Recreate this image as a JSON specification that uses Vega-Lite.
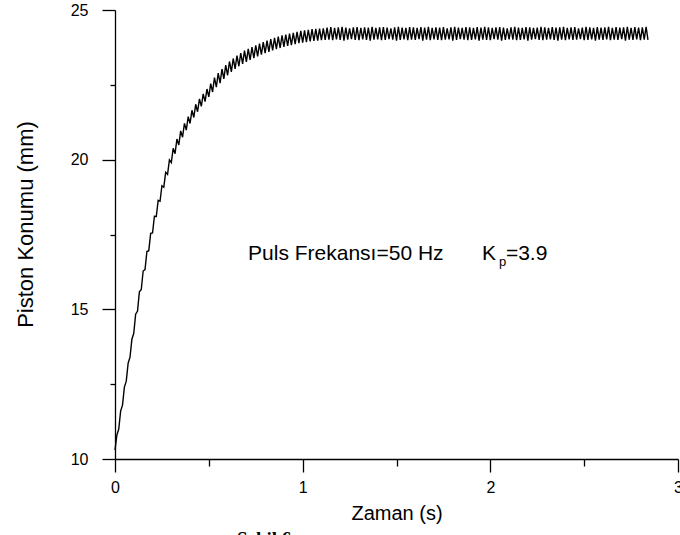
{
  "$schema": "https://vega.github.io/schema/vega-lite/v6.json",
  "width": 563,
  "height": 449,
  "autosize": {"type": "none"},
  "padding": {"left": 115, "top": 10, "right": 2, "bottom": 76},
  "background": "white",
  "config": {
    "view": {"stroke": null},
    "axis": {
      "grid": false,
      "domainColor": "black",
      "domainWidth": 1.3,
      "tickColor": "black",
      "tickWidth": 1.3,
      "labelColor": "black",
      "titleColor": "black",
      "labelFont": "Liberation Sans",
      "titleFont": "Liberation Sans",
      "labelFontSize": 16,
      "titleFontWeight": "normal"
    }
  },
  "layer": [
    {
      "data": {
        "values": [
          {"t":0,"y":10.3},{"t":0.01,"y":10.8},{"t":0.02,"y":11.0},{"t":0.03,"y":11.6},{"t":0.04,"y":11.8},{"t":0.05,"y":12.4},{"t":0.06,"y":12.6},{"t":0.07,"y":13.2},{"t":0.08,"y":13.4},{"t":0.09,"y":14.0},
          {"t":0.1,"y":14.2},{"t":0.11,"y":14.84},{"t":0.12,"y":14.94},{"t":0.13,"y":15.59},{"t":0.14,"y":15.66},{"t":0.15,"y":16.28},{"t":0.16,"y":16.33},{"t":0.17,"y":16.93},{"t":0.18,"y":16.96},{"t":0.19,"y":17.54},
          {"t":0.2,"y":17.55},{"t":0.21,"y":18.11},{"t":0.22,"y":18.1},{"t":0.23,"y":18.64},{"t":0.24,"y":18.61},{"t":0.25,"y":19.13},{"t":0.26,"y":19.08},{"t":0.27,"y":19.58},{"t":0.28,"y":19.51},{"t":0.29,"y":19.99},
          {"t":0.3,"y":19.9},{"t":0.31,"y":20.38},{"t":0.32,"y":20.2},{"t":0.33,"y":20.69},{"t":0.34,"y":20.49},{"t":0.35,"y":20.96},{"t":0.36,"y":20.75},{"t":0.37,"y":21.21},{"t":0.38,"y":20.99},{"t":0.39,"y":21.44},
          {"t":0.4,"y":21.21},{"t":0.41,"y":21.65},{"t":0.42,"y":21.41},{"t":0.43,"y":21.85},{"t":0.44,"y":21.6},{"t":0.45,"y":22.03},{"t":0.46,"y":21.78},{"t":0.47,"y":22.2},{"t":0.48,"y":21.94},{"t":0.49,"y":22.36},
          {"t":0.5,"y":22.1},{"t":0.51,"y":22.54},{"t":0.52,"y":22.26},{"t":0.53,"y":22.74},{"t":0.54,"y":22.42},{"t":0.55,"y":22.89},{"t":0.56,"y":22.56},{"t":0.57,"y":23.03},{"t":0.58,"y":22.7},{"t":0.59,"y":23.16},
          {"t":0.6,"y":22.82},{"t":0.61,"y":23.28},{"t":0.62,"y":22.93},{"t":0.63,"y":23.38},{"t":0.64,"y":23.03},{"t":0.65,"y":23.48},{"t":0.66,"y":23.12},{"t":0.67,"y":23.56},{"t":0.68,"y":23.2},{"t":0.69,"y":23.64},
          {"t":0.7,"y":23.27},{"t":0.71,"y":23.7},{"t":0.72,"y":23.33},{"t":0.73,"y":23.76},{"t":0.74,"y":23.39},{"t":0.75,"y":23.82},{"t":0.76,"y":23.45},{"t":0.77,"y":23.88},{"t":0.78,"y":23.51},{"t":0.79,"y":23.93},
          {"t":0.8,"y":23.56},{"t":0.81,"y":23.98},{"t":0.82,"y":23.6},{"t":0.83,"y":24.03},{"t":0.84,"y":23.65},{"t":0.85,"y":24.07},{"t":0.86,"y":23.69},{"t":0.87,"y":24.11},{"t":0.88,"y":23.73},{"t":0.89,"y":24.15},
          {"t":0.9,"y":23.77},{"t":0.91,"y":24.18},{"t":0.92,"y":23.8},{"t":0.93,"y":24.21},{"t":0.94,"y":23.83},{"t":0.95,"y":24.24},{"t":0.96,"y":23.86},{"t":0.97,"y":24.27},{"t":0.98,"y":23.89},{"t":0.99,"y":24.3},
          {"t":1.0,"y":23.91},{"t":1.01,"y":24.32},{"t":1.02,"y":23.93},{"t":1.03,"y":24.34},{"t":1.04,"y":23.95},{"t":1.05,"y":24.36},{"t":1.06,"y":23.97},{"t":1.07,"y":24.37},{"t":1.08,"y":23.98},{"t":1.09,"y":24.38},
          {"t":1.1,"y":23.99},{"t":1.11,"y":24.39},{"t":1.12,"y":24.0},{"t":1.13,"y":24.41},{"t":1.14,"y":24.01},{"t":1.15,"y":24.43},{"t":1.16,"y":23.99},{"t":1.17,"y":24.4},{"t":1.18,"y":24.02},{"t":1.19,"y":24.42},
          {"t":1.2,"y":24.0},{"t":1.21,"y":24.44},{"t":1.22,"y":23.98},{"t":1.23,"y":24.41},{"t":1.24,"y":24.01},{"t":1.25,"y":24.39},{"t":1.26,"y":24.03},{"t":1.27,"y":24.42},{"t":1.28,"y":24.0},{"t":1.29,"y":24.43},
          {"t":1.3,"y":23.99},{"t":1.31,"y":24.4},{"t":1.32,"y":24.02},{"t":1.33,"y":24.42},{"t":1.34,"y":24.0},{"t":1.35,"y":24.41},{"t":1.36,"y":23.98},{"t":1.37,"y":24.44},{"t":1.38,"y":24.01},{"t":1.39,"y":24.4},
          {"t":1.4,"y":24.02},{"t":1.41,"y":24.42},{"t":1.42,"y":23.99},{"t":1.43,"y":24.43},{"t":1.44,"y":24.0},{"t":1.45,"y":24.41},{"t":1.46,"y":24.03},{"t":1.47,"y":24.39},{"t":1.48,"y":24.01},{"t":1.49,"y":24.42},
          {"t":1.5,"y":23.98},{"t":1.51,"y":24.44},{"t":1.52,"y":24.0},{"t":1.53,"y":24.41},{"t":1.54,"y":24.02},{"t":1.55,"y":24.4},{"t":1.56,"y":23.99},{"t":1.57,"y":24.43},{"t":1.58,"y":24.01},{"t":1.59,"y":24.42},
          {"t":1.6,"y":24.0},{"t":1.61,"y":24.4},{"t":1.62,"y":24.03},{"t":1.63,"y":24.43},{"t":1.64,"y":23.98},{"t":1.65,"y":24.41},{"t":1.66,"y":24.01},{"t":1.67,"y":24.44},{"t":1.68,"y":23.99},{"t":1.69,"y":24.4},
          {"t":1.7,"y":24.02},{"t":1.71,"y":24.42},{"t":1.72,"y":24.0},{"t":1.73,"y":24.41},{"t":1.74,"y":23.99},{"t":1.75,"y":24.43},{"t":1.76,"y":24.01},{"t":1.77,"y":24.39},{"t":1.78,"y":24.02},{"t":1.79,"y":24.42},
          {"t":1.8,"y":23.98},{"t":1.81,"y":24.44},{"t":1.82,"y":24.0},{"t":1.83,"y":24.41},{"t":1.84,"y":24.03},{"t":1.85,"y":24.4},{"t":1.86,"y":24.01},{"t":1.87,"y":24.43},{"t":1.88,"y":23.99},{"t":1.89,"y":24.42},
          {"t":1.9,"y":24.0},{"t":1.91,"y":24.4},{"t":1.92,"y":24.02},{"t":1.93,"y":24.43},{"t":1.94,"y":23.98},{"t":1.95,"y":24.41},{"t":1.96,"y":24.01},{"t":1.97,"y":24.44},{"t":1.98,"y":24.0},{"t":1.99,"y":24.42},
          {"t":2.0,"y":23.99},{"t":2.01,"y":24.4},{"t":2.02,"y":24.03},{"t":2.03,"y":24.42},{"t":2.04,"y":24.01},{"t":2.05,"y":24.43},{"t":2.06,"y":23.98},{"t":2.07,"y":24.41},{"t":2.08,"y":24.0},{"t":2.09,"y":24.39},
          {"t":2.1,"y":24.02},{"t":2.11,"y":24.42},{"t":2.12,"y":24.01},{"t":2.13,"y":24.44},{"t":2.14,"y":23.99},{"t":2.15,"y":24.41},{"t":2.16,"y":24.0},{"t":2.17,"y":24.4},{"t":2.18,"y":24.02},{"t":2.19,"y":24.43},
          {"t":2.2,"y":23.98},{"t":2.21,"y":24.42},{"t":2.22,"y":24.01},{"t":2.23,"y":24.4},{"t":2.24,"y":24.03},{"t":2.25,"y":24.41},{"t":2.26,"y":24.0},{"t":2.27,"y":24.44},{"t":2.28,"y":23.99},{"t":2.29,"y":24.42},
          {"t":2.3,"y":24.01},{"t":2.31,"y":24.4},{"t":2.32,"y":24.02},{"t":2.33,"y":24.43},{"t":2.34,"y":24.0},{"t":2.35,"y":24.41},{"t":2.36,"y":23.98},{"t":2.37,"y":24.42},{"t":2.38,"y":24.01},{"t":2.39,"y":24.44},
          {"t":2.4,"y":23.99},{"t":2.41,"y":24.4},{"t":2.42,"y":24.02},{"t":2.43,"y":24.42},{"t":2.44,"y":24.0},{"t":2.45,"y":24.43},{"t":2.46,"y":24.01},{"t":2.47,"y":24.39},{"t":2.48,"y":24.03},{"t":2.49,"y":24.41},
          {"t":2.5,"y":23.99},{"t":2.51,"y":24.44},{"t":2.52,"y":24.0},{"t":2.53,"y":24.42},{"t":2.54,"y":24.02},{"t":2.55,"y":24.4},{"t":2.56,"y":23.98},{"t":2.57,"y":24.43},{"t":2.58,"y":24.01},{"t":2.59,"y":24.41},
          {"t":2.6,"y":24.0},{"t":2.61,"y":24.42},{"t":2.62,"y":24.02},{"t":2.63,"y":24.44},{"t":2.64,"y":23.99},{"t":2.65,"y":24.4},{"t":2.66,"y":24.01},{"t":2.67,"y":24.43},{"t":2.68,"y":24.0},{"t":2.69,"y":24.41},
          {"t":2.7,"y":24.03},{"t":2.71,"y":24.42},{"t":2.72,"y":23.98},{"t":2.73,"y":24.44},{"t":2.74,"y":24.01},{"t":2.75,"y":24.4},{"t":2.76,"y":24.0},{"t":2.77,"y":24.43},{"t":2.78,"y":24.02},{"t":2.79,"y":24.41},
          {"t":2.8,"y":23.99},{"t":2.81,"y":24.42},{"t":2.82,"y":24.01},{"t":2.83,"y":24.44},{"t":2.84,"y":24.0}
        ]
      },
      "mark": {"type": "line", "color": "black", "strokeWidth": 1.4, "clip": false},
      "encoding": {
        "x": {
          "field": "t", "type": "quantitative",
          "scale": {"domain": [0, 3], "nice": false, "zero": false},
          "axis": {
            "values": [0, 0.5, 1, 1.5, 2, 2.5, 3],
            "tickSize": {"condition": {"test": "datum.value % 1 === 0", "value": 13}, "value": 7},
            "labelExpr": "datum.value % 1 === 0 ? format(datum.value, 'd') : ''",
            "labelFontSize": 16,
            "labelPadding": 7,
            "labelFlush": false,
            "labelOverlap": false,
            "title": "Zaman (s)",
            "titleFontSize": 20,
            "titlePadding": 8
          }
        },
        "y": {
          "field": "y", "type": "quantitative",
          "scale": {"domain": [10, 25], "nice": false, "zero": false},
          "axis": {
            "values": [10, 12.5, 15, 17.5, 20, 22.5, 25],
            "tickSize": {"condition": {"test": "datum.value % 5 === 0", "value": 13}, "value": 5},
            "labelExpr": "datum.value % 5 === 0 ? format(datum.value, 'd') : ''",
            "labelFontSize": 16,
            "labelPadding": 14,
            "labelFlush": false,
            "labelOverlap": false,
            "title": "Piston Konumu (mm)",
            "titleFontSize": 22,
            "titlePadding": 33,
            "titleY": 214
          }
        }
      }
    },
    {
      "data": {"values": [{}]},
      "mark": {"type": "text", "align": "left", "baseline": "alphabetic", "font": "Liberation Sans", "fontSize": 21, "color": "black"},
      "encoding": {"x": {"datum": 0.709}, "y": {"datum": 16.647}, "text": {"value": "Puls Frekansı=50 Hz"}}
    },
    {
      "data": {"values": [{}]},
      "mark": {"type": "text", "align": "left", "baseline": "alphabetic", "font": "Liberation Sans", "fontSize": 21, "color": "black"},
      "encoding": {"x": {"datum": 1.956}, "y": {"datum": 16.647}, "text": {"value": "K"}}
    },
    {
      "data": {"values": [{}]},
      "mark": {"type": "text", "align": "left", "baseline": "alphabetic", "font": "Liberation Sans", "fontSize": 13, "color": "black"},
      "encoding": {"x": {"datum": 2.046}, "y": {"datum": 16.44}, "text": {"value": "p"}}
    },
    {
      "data": {"values": [{}]},
      "mark": {"type": "text", "align": "left", "baseline": "alphabetic", "font": "Liberation Sans", "fontSize": 21, "color": "black"},
      "encoding": {"x": {"datum": 2.083}, "y": {"datum": 16.647}, "text": {"value": "=3.9"}}
    },
    {
      "data": {"values": [{}]},
      "mark": {"type": "text", "align": "left", "baseline": "alphabetic", "font": "Liberation Serif", "fontWeight": "bold", "fontSize": 19, "color": "black"},
      "encoding": {"x": {"datum": 0.65}, "y": {"datum": 7.13}, "text": {"value": "Şekil 6."}}
    }
  ]
}
